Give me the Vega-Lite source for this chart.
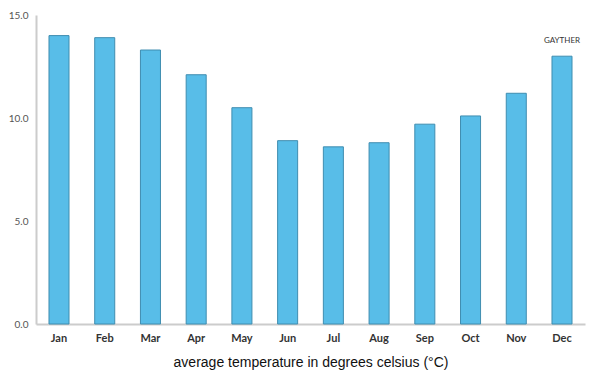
{
  "$schema": "https://vega.github.io/schema/vega-lite/v6.json",
  "autosize": {"type": "none"},
  "width": 549,
  "height": 309,
  "padding": {"left": 36, "top": 15, "right": 15, "bottom": 51},
  "background": "white",
  "config": {"view": {"stroke": null}},
  "data": {"values": [
    {"month": "Jan", "temp": 14.0},
    {"month": "Feb", "temp": 13.9},
    {"month": "Mar", "temp": 13.3},
    {"month": "Apr", "temp": 12.1},
    {"month": "May", "temp": 10.5},
    {"month": "Jun", "temp": 8.9},
    {"month": "Jul", "temp": 8.6},
    {"month": "Aug", "temp": 8.8},
    {"month": "Sep", "temp": 9.7},
    {"month": "Oct", "temp": 10.1},
    {"month": "Nov", "temp": 11.2},
    {"month": "Dec", "temp": 13.0}
  ]},
  "layer": [
    {
      "mark": {"type": "bar", "fill": "#58bde8", "stroke": "#3f8db0", "strokeWidth": 1},
      "encoding": {
        "x": {
          "field": "month", "type": "nominal", "sort": null,
          "scale": {"paddingInner": 0.562, "paddingOuter": 0.284},
          "axis": {
            "title": "average temperature in degrees celsius (°C)",
            "titleFont": "Liberation Sans", "titleFontSize": 14, "titleFontWeight": "normal", "titleColor": "#111",
            "titlePadding": 12,
            "labelAngle": 0, "labelFont": "Lato", "labelFontSize": 11, "labelFontWeight": "bold", "labelColor": "#333",
            "labelPadding": 8, "ticks": false, "domainColor": "#cccccc", "domainWidth": 2
          }
        },
        "y": {
          "field": "temp", "type": "quantitative",
          "scale": {"domain": [0, 15], "nice": false},
          "axis": {
            "title": null, "values": [0, 5, 10, 15], "format": ".1f",
            "labelFont": "Lato", "labelFontSize": 10, "labelColor": "#555",
            "labelPadding": 8, "ticks": false, "grid": false, "domainColor": "#cccccc", "domainWidth": 2
          }
        }
      }
    },
    {
      "data": {"values": [{"month": "Dec", "temp": 13.75, "label": "GAYTHER"}]},
      "mark": {"type": "text", "font": "Lato", "fontSize": 8, "color": "#333", "baseline": "middle"},
      "encoding": {
        "x": {"field": "month", "type": "nominal", "sort": null},
        "y": {"field": "temp", "type": "quantitative"},
        "text": {"field": "label"}
      }
    }
  ]
}
